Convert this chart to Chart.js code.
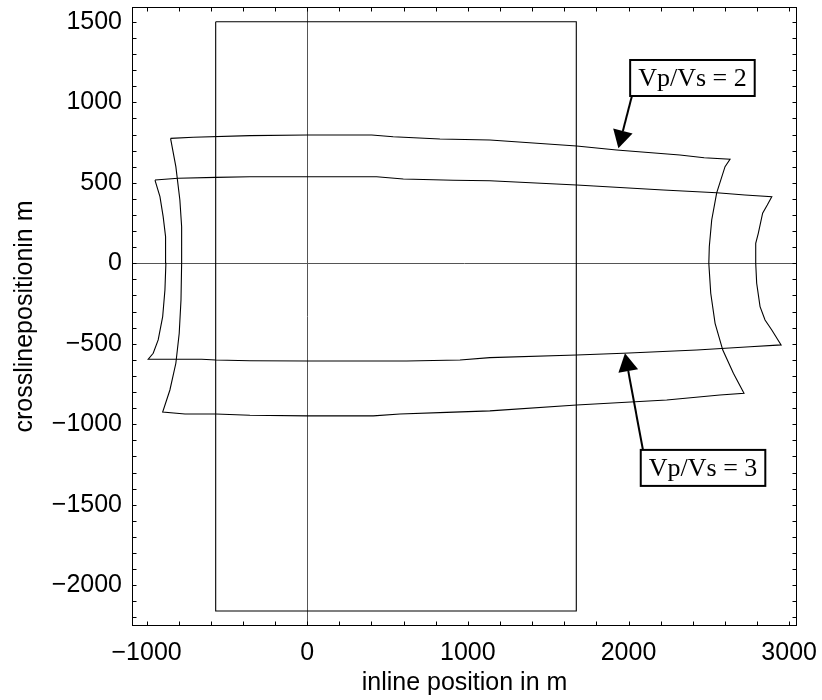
<!DOCTYPE html>
<html>
<head>
<meta charset="utf-8">
<script src="https://cdn.jsdelivr.net/npm/chart.js@4.4.1/dist/chart.umd.min.js"></script>
<style>
  html, body { margin: 0; padding: 0; background: #fff; }
  #wrap { width: 822px; height: 700px; }
</style>
</head>
<body>
<div id="wrap"><canvas id="chart" width="822" height="700"></canvas></div>
<script>
// ---- data ----
const xTickLabels = [-1000, 0, 1000, 2000, 3000];
const yTickLabels = [-2000, -1500, -1000, -500, 0, 500, 1000, 1500];

// survey area rectangle
const areaX = [-570, 1675, 1675, -570, -570];
const areaY = [1500, 1500, -2160, -2160, 1500];

// Vp/Vs = 2 outline (closed)
const vp2X = [-851, -710, -357, 0, 401, 535, 826, 1137, 1677, 1926, 2320, 2471, 2632,
  2601, 2549, 2518, 2503, 2500, 2512, 2539, 2587, 2653, 2719,
  2569, 2238, 1677, 1137, 868, 577, 411, 0, -357, -569, -761, -900,
  -855, -818, -797, -786, -782, -782, -793, -818, -851];
const vp2Y = [776, 783, 793, 797, 797, 786, 772, 766, 729, 704, 673, 656, 646,
  600, 438, 269, 103, 0, -186, -373, -539, -683, -807,
  -818, -849, -880, -917, -926, -936, -948, -948, -944, -936, -936, -924,
  -787, -621, -435, -228, 0, 227, 393, 600, 776];

// Vp/Vs = 3 outline (closed)
const vp3X = [-948, -803, -569, -357, 0, 432, 598, 909, 1137, 1677, 2217, 2549, 2725, 2892,
  2864, 2835, 2808, 2792, 2792, 2798, 2819, 2850, 2892, 2950,
  2757, 2425, 1968, 1677, 1137, 951, 619, 0, -357, -569, -657, -990,
  -959, -928, -900, -886, -880, -882, -897, -917, -948];
const vp3Y = [517, 528, 534, 538, 538, 538, 524, 516, 513, 486, 455, 438, 424, 414,
  362, 311, 186, 124, 0, -124, -269, -352, -414, -507,
  -518, -539, -559, -570, -586, -601, -607, -607, -605, -601, -596, -596,
  -559, -476, -331, -166, 0, 166, 290, 414, 517];

const callouts = [
  { text: "Vp/Vs = 2", box: [2398, 1151], tail: [2020, 1035], tip: [1937, 714] },
  { text: "Vp/Vs = 3", box: [2464, -1271], tail: [2090, -1160], tip: [1978, -559] }
];

const toPoints = (xs, ys) => xs.map((x, i) => ({ x: x, y: ys[i] }));
const fmt = (v) => (v < 0 ? "\u2212" + Math.abs(v) : String(v));

const sansFont = { family: "'Liberation Sans', Arial, sans-serif", size: 25 };
const lineStyle = { borderColor: "#000", borderWidth: 1.1, pointRadius: 0, showLine: true, fill: false, tension: 0 };

// frame with inward ticks on all four sides
const framePlugin = {
  id: "frame",
  afterDatasetsDraw(chart) {
    const { ctx, chartArea: a, scales } = chart;
    ctx.save();
    ctx.strokeStyle = "#000";
    ctx.lineWidth = 1;
    const L = Math.round(a.left) + 0.5, R = Math.round(a.right) - 0.5;
    const T = Math.round(a.top) + 0.5, B = Math.round(a.bottom) - 0.5;
    ctx.strokeRect(L, T, R - L, B - T);
    ctx.beginPath();
    scales.x.ticks.forEach((t) => {
      const px = Math.round(scales.x.getPixelForValue(t.value)) + 0.5;
      ctx.moveTo(px, B); ctx.lineTo(px, B - 4);
      ctx.moveTo(px, T); ctx.lineTo(px, T + 4);
    });
    scales.y.ticks.forEach((t) => {
      const py = Math.round(scales.y.getPixelForValue(t.value)) + 0.5;
      ctx.moveTo(L, py); ctx.lineTo(L + 4, py);
      ctx.moveTo(R, py); ctx.lineTo(R - 4, py);
    });
    ctx.stroke();
    ctx.restore();
  }
};

// labelled boxes with arrows
const calloutPlugin = {
  id: "callouts",
  afterDraw(chart) {
    const { ctx, scales } = chart;
    const px = (p) => [scales.x.getPixelForValue(p[0]), scales.y.getPixelForValue(p[1])];
    ctx.save();
    callouts.forEach((c) => {
      const [x0, y0] = px(c.tail);
      const [x1, y1] = px(c.tip);
      const ang = Math.atan2(y1 - y0, x1 - x0);
      const len = 18, half = 10;
      const bx = x1 - len * Math.cos(ang), by = y1 - len * Math.sin(ang);
      ctx.strokeStyle = "#000";
      ctx.lineWidth = 2;
      ctx.beginPath();
      ctx.moveTo(x0, y0);
      ctx.lineTo(bx, by);
      ctx.stroke();
      ctx.fillStyle = "#000";
      ctx.beginPath();
      ctx.moveTo(x1, y1);
      ctx.lineTo(bx + half * Math.sin(ang), by - half * Math.cos(ang));
      ctx.lineTo(bx - half * Math.sin(ang), by + half * Math.cos(ang));
      ctx.closePath();
      ctx.fill();

      ctx.font = "26px 'Liberation Serif', 'Times New Roman', serif";
      const w = ctx.measureText(c.text).width + 16, h = 36;
      const [cx, cy] = px(c.box);
      ctx.fillStyle = "#fff";
      ctx.fillRect(cx - w / 2, cy - h / 2, w, h);
      ctx.strokeRect(cx - w / 2, cy - h / 2, w, h);
      ctx.fillStyle = "#000";
      ctx.textAlign = "center";
      ctx.textBaseline = "middle";
      ctx.fillText(c.text, cx, cy + 1);
    });
    ctx.restore();
  }
};

const zeroLine = (c) => (c.tick && c.tick.value === 0 ? "#555" : "rgba(0,0,0,0)");
const noPad = (s) => { s.paddingTop = 0; s.paddingBottom = 0; s.paddingLeft = 0; s.paddingRight = 0; };

new Chart(document.getElementById("chart"), {
  type: "scatter",
  data: {
    datasets: [
      { label: "survey area", data: toPoints(areaX, areaY), ...lineStyle },
      { label: "Vp/Vs = 2", data: toPoints(vp2X, vp2Y), ...lineStyle },
      { label: "Vp/Vs = 3", data: toPoints(vp3X, vp3Y), ...lineStyle }
    ]
  },
  options: {
    responsive: false,
    animation: false,
    devicePixelRatio: 1,
    layout: { padding: { top: 7, right: 25, bottom: 0, left: 0 } },
    plugins: { legend: { display: false }, tooltip: { enabled: false } },
    scales: {
      x: {
        type: "linear",
        min: -1091,
        max: 3049,
        grid: { drawTicks: false, color: zeroLine, lineWidth: 1 },
        border: { display: false },
        ticks: {
          stepSize: 200,
          autoSkip: false,
          includeBounds: false,
          maxRotation: 0,
          padding: 12,
          color: "#000",
          font: sansFont,
          callback: (v) => (xTickLabels.includes(v) ? fmt(v) : "")
        },
        title: { display: true, text: "inline position in m", color: "#000", font: sansFont, padding: { top: 0, bottom: 2 } },
        afterFit: (s) => { s.height = 74; noPad(s); }
      },
      y: {
        type: "linear",
        min: -2253,
        max: 1592,
        grid: { drawTicks: false, color: zeroLine, lineWidth: 1 },
        border: { display: false },
        ticks: {
          stepSize: 100,
          autoSkip: false,
          includeBounds: false,
          padding: 10,
          color: "#000",
          font: sansFont,
          callback: (v) => (yTickLabels.includes(v) ? fmt(v) : "")
        },
        title: { display: true, text: "crosslinepositionin m", color: "#000", font: sansFont, padding: { top: 10, bottom: 0 } },
        afterFit: (s) => { s.width = 132; noPad(s); }
      }
    }
  },
  plugins: [framePlugin, calloutPlugin]
});
</script>
</body>
</html>
